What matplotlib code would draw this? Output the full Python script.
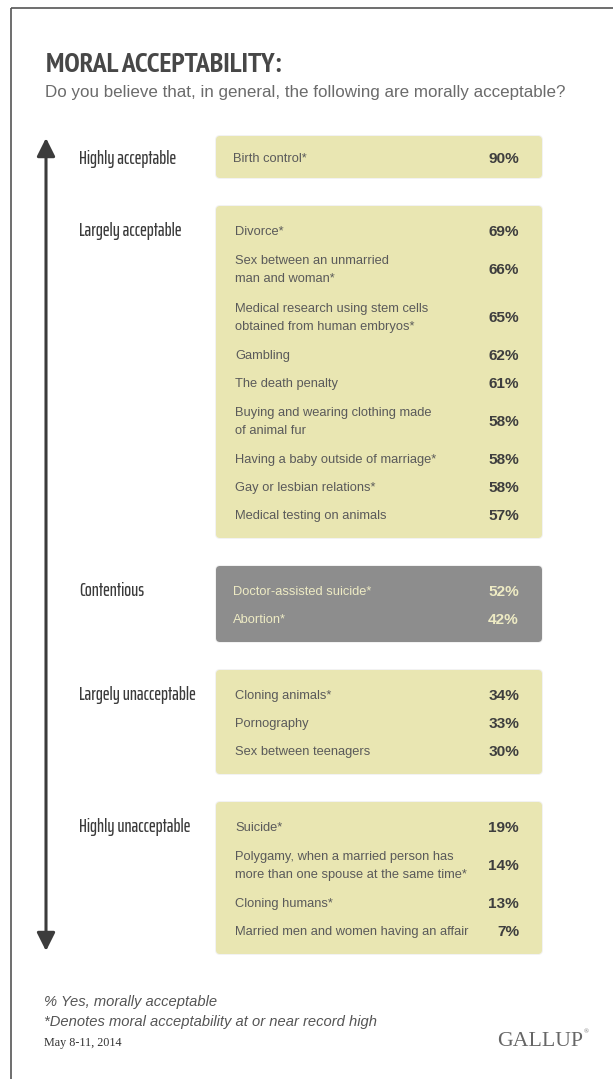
import matplotlib.pyplot as plt
from matplotlib import font_manager
from matplotlib.patches import FancyBboxPatch, FancyArrowPatch

# survey data
groups = ["Highly acceptable", "Largely acceptable", "Contentious",
          "Largely unacceptable", "Highly unacceptable"]
items = [
    ["Birth control*"],
    ["Divorce*", "Sex between an unmarried\nman and woman*",
     "Medical research using stem cells\nobtained from human embryos*",
     "Gambling", "The death penalty",
     "Buying and wearing clothing made\nof animal fur",
     "Having a baby outside of marriage*", "Gay or lesbian relations*",
     "Medical testing on animals"],
    ["Doctor-assisted suicide*", "Abortion*"],
    ["Cloning animals*", "Pornography", "Sex between teenagers"],
    ["Suicide*",
     "Polygamy, when a married person has\nmore than one spouse at the same time*",
     "Cloning humans*", "Married men and women having an affair"],
]
values = [
    [90],
    [69, 66, 65, 62, 61, 58, 58, 58, 57],
    [52, 42],
    [34, 33, 30],
    [19, 14, 13, 7],
]
highlight = [False, False, True, False, False]

title = "MORAL ACCEPTABILITY:"
subtitle = "Do you believe that, in general, the following are morally acceptable?"
notes = ["% Yes, morally acceptable",
         "*Denotes moral acceptability at or near record high"]
date = "May 8-11, 2014"

# colours
YELLOW = "#E9E6B2"
GREY_BOX = "#8D8D8D"
PALE_TXT = "#EEEBC4"
DARK = "#3E3E3E"
LABEL = "#5A5A5A"

SANS = dict(family="Liberation Sans")
SERIF = dict(family="Liberation Serif")

fig = plt.figure(figsize=(6.13, 10.79), dpi=100)
ax = fig.add_axes([0, 0, 1, 1])
ax.set_xlim(0, 613)
ax.set_ylim(1079, 0)
ax.axis("off")
renderer = fig.canvas.get_renderer()


def width_of(s, size, **kw):
    t = ax.text(0, 0, s, fontsize=size, **kw)
    w = t.get_window_extent(renderer).width
    t.remove()
    return w


def fit(s, width, **kw):
    # font size (pt) that makes s about width pixels wide
    return 10 * width / width_of(s, 10, **kw)


def wnum(w):
    if isinstance(w, str):
        return font_manager.weight_dict.get(w, 400)
    return int(w)


# every narrow / condensed face we can find (name, stretch, weight)
faces = set()
for f in font_manager.fontManager.ttflist:
    low = (f.name + " " + str(f.stretch)).lower()
    if f.style != "normal" or "mono" in low or " sc" in low or "caps" in low:
        continue
    if "condensed" in low or "narrow" in low:
        faces.add((f.name, str(f.stretch), wnum(f.weight)))


def choose(s, em_width, weight):
    # face whose width (in em) is closest to the one seen in the picture
    em_px = 10 * 100 / 72
    opts = [dict(family="Liberation Sans", fontweight=weight)]
    for nm, st, w in faces:
        if abs(w - weight) <= 100:
            opts.append(dict(family=nm, fontstretch=st, fontweight=w))
    return min(opts, key=lambda c: abs(width_of(s, 10, **c) / em_px - em_width))


TITLE_F = choose(title, 8.5, 700)
GROUP_F = choose("Largely unacceptable", 6.5, 400)
SUB_F = dict(family="Liberation Sans")
if any(n == "Liberation Sans Narrow" for n, _, _ in faces):
    SUB_F = dict(family="Liberation Sans Narrow")


def put(x, yc, s, size, cap=0.716, **kw):
    # place text so that capitals are centred on yc
    px = size * 100 / 72
    ax.text(x, yc + cap * px / 2, s, fontsize=size, va="baseline", **kw)


# frame lines (top and left only)
ax.plot([11, 11], [8, 1079], color="#555555", lw=1.2, solid_capstyle="butt")
ax.plot([11, 613], [8, 8], color="#555555", lw=1.2, solid_capstyle="butt")

# header
fs_title = fit(title, 236, **TITLE_F)
ax.text(46, 72, title, fontsize=fs_title, color="#474747", va="baseline", **TITLE_F)
fs_sub = fit(subtitle, 521, **SUB_F)
ax.text(45, 97, subtitle, fontsize=fs_sub, color="#6B6B6B", va="baseline", **SUB_F)

fs_group = fit("Largely unacceptable", 117, **GROUP_F)
fs_label = fit("Medical research using stem cells", 194, **SANS)
fs_value = fit("69%", 31, fontweight="bold", **SANS)

X0, X1 = 216, 542
X_LABEL, X_VALUE, X_GROUP = 235, 519, 79
ROW1, ROW2, GAP = 28, 48, 28
LINE_STEP = 18

y = 136
box_top = None
box_bottom = None
for gi, grp in enumerate(groups):
    pad = 7 if gi == 0 else 10
    heights = [ROW2 if "\n" in s else ROW1 for s in items[gi]]
    h = sum(heights) + 2 * pad
    face = GREY_BOX if highlight[gi] else YELLOW
    ltxt = PALE_TXT if highlight[gi] else LABEL
    vtxt = PALE_TXT if highlight[gi] else DARK
    # soft shadow then box
    ax.add_patch(FancyBboxPatch((X0 - 1, y - 1), X1 - X0 + 2, h + 2,
                                boxstyle="round,pad=0,rounding_size=5",
                                fc="#000000", ec="none", alpha=0.05))
    ax.add_patch(FancyBboxPatch((X0, y), X1 - X0, h,
                                boxstyle="round,pad=0,rounding_size=4",
                                fc=face, ec="none"))
    cy = y + pad
    for s, v, rh in zip(items[gi], values[gi], heights):
        c = cy + rh / 2
        lines = s.split("\n")
        for k, line in enumerate(lines):
            ly = c + (k - (len(lines) - 1) / 2) * LINE_STEP
            put(X_LABEL - (2 if gi in (0, 2) else 0), ly, line, fs_label,
                color=ltxt, **SANS)
        put(X_VALUE, c, f"{v}%", fs_value, color=vtxt, fontweight="bold",
            ha="right", **SANS)
        cy += rh
    first_c = y + pad + heights[0] / 2
    put(X_GROUP, first_c, grp, fs_group, color="#3A3A3A", **GROUP_F)
    if box_top is None:
        box_top = y
    box_bottom = y + h
    y += h + GAP

# double-headed scale arrow along the left
ax.add_patch(FancyArrowPatch((46, box_top + 2), (46, box_bottom - 3),
                             arrowstyle="<|-|>,head_length=1.0,head_width=0.5",
                             mutation_scale=11, lw=2.2, color="#3C3C3C",
                             shrinkA=0, shrinkB=0))

# footer
fs_note = fit(notes[1], 334, style="italic", **SANS)
ax.text(44, 1006, notes[0], fontsize=fs_note, style="italic", color="#555555",
        va="baseline", **SANS)
ax.text(44, 1026, notes[1], fontsize=fs_note, style="italic", color="#555555",
        va="baseline", **SANS)
fs_date = fit(date, 78, **SERIF)
ax.text(44, 1046, date, fontsize=fs_date, color="#333333", va="baseline", **SERIF)
fs_logo = fit("GALLUP", 86, **SERIF)
ax.text(497, 1046, "GALLUP", fontsize=fs_logo, color="#666666", va="baseline", **SERIF)
ax.text(584, 1033, "®", fontsize=fs_logo * 0.3, color="#666666", va="baseline", **SERIF)

fig.savefig("out.png", dpi=100, facecolor="white")
